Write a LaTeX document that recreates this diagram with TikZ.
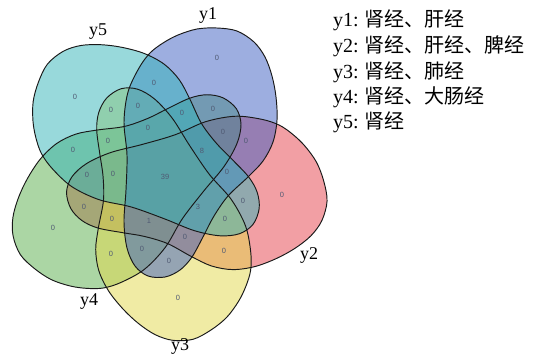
\documentclass[tikz,border=0pt]{standalone}
\usepackage{fontspec}
\setmainfont{Liberation Serif}
\newfontfamily\cjk{Noto Sans CJK SC}
\newfontfamily\numfont{Liberation Sans}
\definecolor{cA}{RGB}{60,95,195}
\definecolor{cB}{RGB}{231,65,75}
\definecolor{cC}{RGB}{227,217,75}
\definecolor{cD}{RGB}{89,175,75}
\definecolor{cE}{RGB}{50,180,185}
\definecolor{numcol}{RGB}{80,90,115}
\tikzset{
  eggpath/.style={insert path={plot[smooth cycle, tension=0.55] coordinates {
    (217,28) (237,31) (254,42) (265,57) (272,76) (276,97) (277,120) (273,142)
    (263,161) (248,177) (228,196) (214,216) (204,235) (192,257) (180,270)
    (165,277) (148,276) (135,266) (127,248) (124,222) (126,190) (127,155)
    (124,122) (128,92) (139,68) (150,53) (163,43) (178,35) (197,29)}}},
  setfill/.style={fill=#1, fill opacity=0.5, draw=none},
  setline/.style={draw=black!90, line width=0.95pt},
  num/.style={font=\numfont\fontsize{7.5}{8}\selectfont, text=numcol, inner sep=0pt},
  setlab/.style={font=\fontsize{18}{19}\selectfont, inner sep=0pt},
  legend/.style={font=\fontsize{20}{22}\selectfont, inner sep=0pt, anchor=west}
}
\begin{document}
\begin{tikzpicture}[x=1pt,y=-1pt]
\useasboundingbox[fill=white] (0,0) rectangle (556,353);
\coordinate (C) at (165,178);
% fills: y2, y4, y3, y1, y5
\begin{scope}[rotate around={-72:(C)}]\path[setfill=cB, eggpath];\end{scope}
\begin{scope}[rotate around={-216:(C)}]\path[setfill=cD, eggpath];\end{scope}
\begin{scope}[rotate around={-144:(C)}]\path[setfill=cC, eggpath];\end{scope}
\path[setfill=cA, eggpath];
\begin{scope}[rotate around={-288:(C)}]\path[setfill=cE, eggpath];\end{scope}
% outlines
\path[setline, eggpath];
\begin{scope}[rotate around={-72:(C)}]\path[setline, eggpath];\end{scope}
\begin{scope}[rotate around={-144:(C)}]\path[setline, eggpath];\end{scope}
\begin{scope}[rotate around={-216:(C)}]\path[setline, eggpath];\end{scope}
\begin{scope}[rotate around={-288:(C)}]\path[setline, eggpath];\end{scope}
% region counts
\node[num] (n1) at (217,58) {0};
\node[num] (n2) at (75,97) {0};
\node[num] (n3) at (154,83) {0};
\node[num] (n4) at (111,110) {0};
\node[num] (n5) at (138,106) {0};
\node[num] (n6) at (182,113) {0};
\node[num] (n7) at (213,109) {0};
\node[num] (n8) at (148,128) {0};
\node[num] (n9) at (223,132) {0};
\node[num] (n10) at (246,141) {0};
\node[num] (n11) at (108,141) {0};
\node[num] (n12) at (73,150) {0};
\node[num] (n13) at (202,151) {8};
\node[num] (n14) at (227,172) {0};
\node[num] (n15) at (87,175) {0};
\node[num] (n16) at (113,174) {0};
\node[num] (n17) at (165,177) {39};
\node[num] (n18) at (282,195) {0};
\node[num] (n19) at (243,201) {0};
\node[num] (n20) at (84,207) {0};
\node[num] (n21) at (198,207) {3};
\node[num] (n22) at (53,228) {0};
\node[num] (n23) at (112,219) {0};
\node[num] (n24) at (149,221) {1};
\node[num] (n25) at (225,219) {0};
\node[num] (n26) at (185,237) {0};
\node[num] (n27) at (142,249) {0};
\node[num] (n28) at (111,254) {0};
\node[num] (n29) at (224,251) {0};
\node[num] (n30) at (169,261) {0};
\node[num] (n31) at (178,298) {0};
% set names
\node[setlab] (t1) at (208,16) {y1};
\node[setlab] (t2) at (309,255) {y2};
\node[setlab] (t3) at (180,346) {y3};
\node[setlab] (t4) at (89,302) {y4};
\node[setlab] (t5) at (98,32) {y5};
% legend
\node[legend] (l1) at (333,20) {y1:\hspace{0.3em}{\cjk 肾经、肝经}};
\node[legend] (l2) at (333,46) {y2:\hspace{0.3em}{\cjk 肾经、肝经、脾经}};
\node[legend] (l3) at (333,72) {y3:\hspace{0.3em}{\cjk 肾经、肺经}};
\node[legend] (l4) at (333,97) {y4:\hspace{0.3em}{\cjk 肾经、大肠经}};
\node[legend] (l5) at (333,122) {y5:\hspace{0.3em}{\cjk 肾经}};
\end{tikzpicture}
\end{document}
